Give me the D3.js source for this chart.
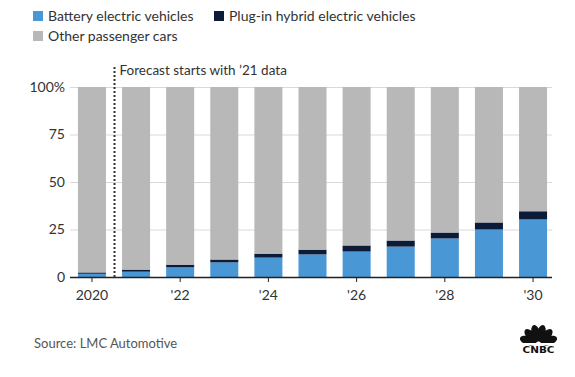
<!DOCTYPE html>
<html>
<head>
<meta charset="utf-8">
<script src="https://cdn.jsdelivr.net/npm/d3@7"></script>
<style>
  body { margin: 0; background: #fff; }
  svg { font-family: Lato, "Open Sans", sans-serif; display: block; }
</style>
</head>
<body>
<div id="chart"></div>
<script>
// values (percent of passenger car sales)
const years = [2020, 2021, 2022, 2023, 2024, 2025, 2026, 2027, 2028, 2029, 2030];
const bev = [1.7, 2.8, 5.1, 7.7, 10.2, 11.9, 13.4, 16.0, 20.3, 25.0, 30.3];
const phev = [0.7, 1.1, 1.4, 1.5, 2.1, 2.5, 3.2, 3.2, 3.1, 3.7, 4.3];
const yTicks = [0, 25, 50, 75, 100];
const xTickYears = [2020, 2022, 2024, 2026, 2028, 2030];
const seriesNames = ["Battery electric vehicles", "Plug-in hybrid electric vehicles", "Other passenger cars"];

const width = 575, height = 377;
const marginLeft = 70, marginRight = 20, marginTop = 87, marginBottom = 100;
const colors = { bev: "#4a97d6", phev: "#0b1b38", other: "#b8b8b8" };

const svg = d3.select("#chart").append("svg")
  .attr("width", width)
  .attr("height", height)
  .attr("viewBox", [0, 0, width, height]);

const x = d3.scaleBand()
  .domain(years)
  .range([marginLeft, width - marginRight])
  .paddingInner(0.365)
  .paddingOuter(0.18);

const y = d3.scaleLinear()
  .domain([0, 100])
  .range([height - marginBottom, marginTop]);

// gridlines + y labels
svg.append("g")
  .attr("transform", `translate(${marginLeft},0)`)
  .call(d3.axisLeft(y).tickValues(yTicks).tickSize(-(width - marginLeft - marginRight - 3))
    .tickFormat(d => d === 100 ? "100%" : d))
  .call(g => g.select(".domain").remove())
  .call(g => g.selectAll(".tick line").attr("stroke", "#d9d9d9"))
  .call(g => g.selectAll(".tick text")
    .attr("x", -5)
    .attr("fill", "#333")
    .attr("font-size", "14px")
    .attr("font-family", "Lato, sans-serif"));

// stacked data
const rows = years.map((yr, i) => ({ year: yr, bev: bev[i], phev: phev[i], other: 100 - bev[i] - phev[i] }));
const stack = d3.stack().keys(["bev", "phev", "other"])(rows);

svg.append("g")
  .selectAll("g")
  .data(stack)
  .join("g")
  .attr("fill", d => colors[d.key])
  .selectAll("rect")
  .data(d => d)
  .join("rect")
  .attr("x", d => x(d.data.year))
  .attr("width", x.bandwidth())
  .attr("y", d => y(d[1]))
  .attr("height", d => y(d[0]) - y(d[1]));

// x axis
const xAxisG = svg.append("g")
  .attr("transform", `translate(0,${y(0)})`)
  .call(d3.axisBottom(x).tickValues(xTickYears).tickSize(5).tickSizeOuter(0)
    .tickFormat(d => d === 2020 ? "2020" : "'" + String(d).slice(2)));
xAxisG.select(".domain")
  .attr("d", `M${marginLeft},0.5H${width - marginRight - 3}`)
  .attr("stroke", "#222")
  .attr("stroke-width", 1.3);
xAxisG.selectAll(".tick line").attr("stroke", "#222");
xAxisG.selectAll(".tick text")
  .attr("y", 13)
  .attr("fill", "#333")
  .attr("font-size", "14px")
  .attr("font-family", "Lato, sans-serif");

// forecast marker between 2020 and 2021
const fx = Math.round((x(2020) + x.bandwidth() + x(2021)) / 2) + 0.5;
svg.append("line")
  .attr("x1", fx).attr("x2", fx)
  .attr("y1", 67).attr("y2", y(0))
  .attr("stroke", "#333")
  .attr("stroke-width", 2)
  .attr("stroke-dasharray", "2,2");
svg.append("text")
  .attr("x", fx + 5)
  .attr("y", 75)
  .attr("fill", "#333")
  .attr("font-size", "13.5px")
  .text("Forecast starts with \u201921 data");

// legend
const legendPos = [[33, 16], [214, 16], [33, 36]];
const legendColors = [colors.bev, colors.phev, colors.other];
const legend = svg.append("g")
  .selectAll("g")
  .data(seriesNames)
  .join("g")
  .attr("transform", (d, i) => `translate(${legendPos[i][0]},${legendPos[i][1]})`);
legend.append("rect")
  .attr("x", 0).attr("y", -5)
  .attr("width", 10).attr("height", 10)
  .attr("fill", (d, i) => legendColors[i]);
legend.append("text")
  .attr("x", 15)
  .attr("y", 5)
  .attr("fill", "#333")
  .attr("font-size", "14px")
  .text(d => d);

// source
svg.append("text")
  .attr("x", 34)
  .attr("y", 348)
  .attr("fill", "#555")
  .attr("font-size", "13px")
  .text("Source: LMC Automotive");

// CNBC peacock
const logo = svg.append("g").attr("transform", "translate(538.5,344)");
const feathers = [-72, -43, -14, 14, 43, 72];
logo.selectAll("ellipse")
  .data(feathers)
  .join("ellipse")
  .attr("cx", 0).attr("cy", -11)
  .attr("rx", 4.3).attr("ry", 8.5)
  .attr("fill", "#111")
  .attr("transform", d => `rotate(${d},0,0)`);
logo.append("rect")
  .attr("x", -16).attr("y", -1)
  .attr("width", 32).attr("height", 2)
  .attr("fill", "#fff");
logo.append("text")
  .attr("x", -16).attr("y", 9)
  .attr("textLength", 32)
  .attr("lengthAdjust", "spacingAndGlyphs")
  .attr("font-size", "9.5px")
  .attr("font-weight", "900")
  .attr("font-family", "'DejaVu Sans', sans-serif")
  .attr("fill", "#111")
  .text("CNBC");
</script>
</body>
</html>
